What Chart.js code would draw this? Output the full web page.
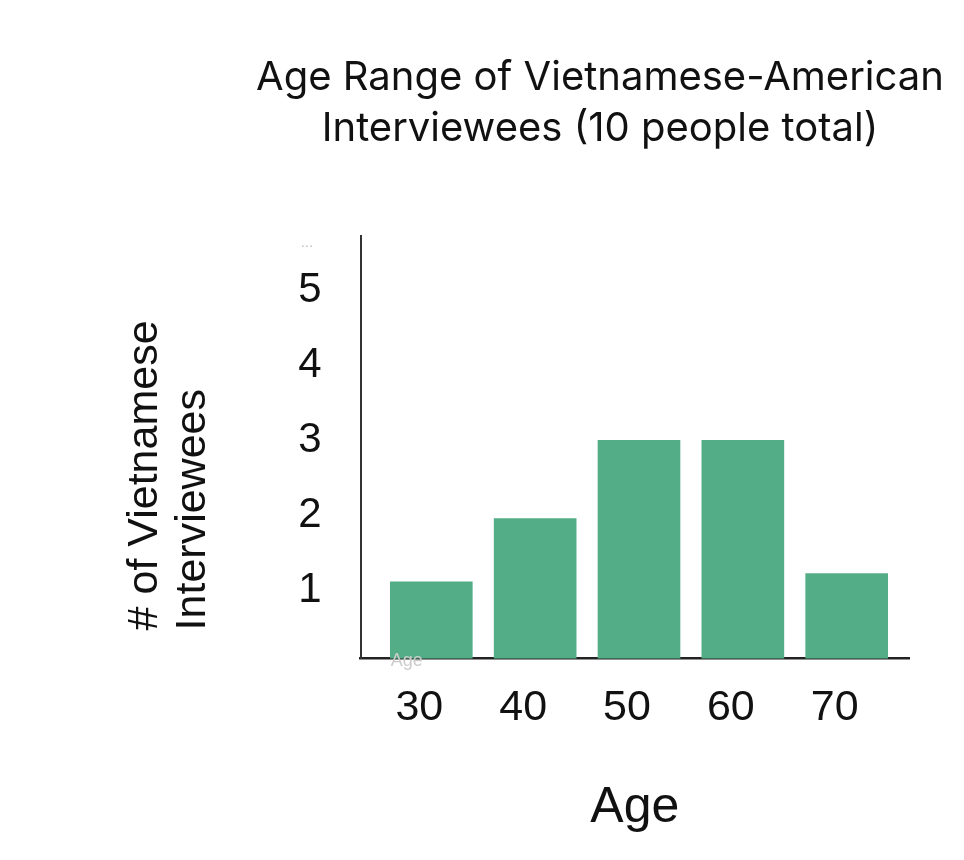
<!DOCTYPE html>
<html lang="en">
<head>
    <meta charset="UTF-8">
    <title>Chart</title>
    <style>
        body {
            margin: 0;
            padding: 0;
            background: #fff;
        }
        #wrap {
            width: 964px;
            height: 860px;
        }
    </style>
    <script src="https://cdn.jsdelivr.net/npm/chart.js@4.4.1/dist/chart.umd.min.js"></script>
</head>
<body>
<div id="wrap">
    <canvas id="chart"></canvas>
</div>
<script>
    // values
    const ages = [30, 40, 50, 60, 70];
    const counts = [1.12, 1.96, 3.0, 3.0, 1.23];
    const yTicks = [1, 2, 3, 4, 5];
    const titleLines = ['Age Range of Vietnamese-American', 'Interviewees (10 people total)'];
    const yTitleLines = ['# of Vietnamese', 'Interviewees'];

    const barColor = '#53ae88';

    // stray faint labels that sit on the original picture
    const faintLabels = {
        id: 'faintLabels',
        afterDraw(chart) {
            const {ctx, chartArea} = chart;
            ctx.save();
            ctx.fillStyle = '#bdbdbd';
            ctx.font = '15px "Liberation Sans"';
            ctx.textBaseline = 'middle';
            ctx.fillText('...', chartArea.left - 60, chartArea.top + 7);
            ctx.fillStyle = '#cccccc';
            ctx.font = '18px "Liberation Sans"';
            ctx.fillText('Age', chartArea.left + 30, chartArea.bottom + 3);
            ctx.restore();
        }
    };

    // the main title sits right of the canvas middle and the y title
    // starts a bit above the axis bottom
    const shiftTitles = {
        id: 'shiftTitles',
        afterLayout(chart) {
            chart.titleBlock.left = 236;
            chart.titleBlock.right = 964;
            const y = chart.scales.y;
            if (!y._titleShifted) {
                const orig = y.drawTitle;
                y.drawTitle = function () {
                    const b = this.bottom;
                    this.bottom = b - 28;
                    orig.call(this);
                    this.bottom = b;
                };
                y._titleShifted = true;
            }
        }
    };

    const config = {
        type: 'bar',
        data: {
            datasets: [{
                data: ages.map((a, i) => ({x: a, y: counts[i]})),
                backgroundColor: barColor,
                borderWidth: 0,
                barThickness: 82
            }]
        },
        options: {
            responsive: true,
            maintainAspectRatio: false,
            animation: false,
            layout: {
                padding: {left: 121, right: 55, top: 0, bottom: 0}
            },
            plugins: {
                legend: {display: false},
                tooltip: {enabled: false},
                title: {
                    display: true,
                    text: titleLines,
                    color: '#111',
                    font: {family: 'Inter', size: 40, weight: 'normal', lineHeight: 1.275},
                    padding: {top: 52, bottom: 82}
                }
            },
            scales: {
                x: {
                    type: 'linear',
                    offset: false,
                    min: 23.2,
                    max: 76,
                    afterBuildTicks: (axis) => {
                        axis.ticks = ages.map(v => ({value: v}));
                    },
                    grid: {display: false, offset: false},
                    border: {display: true, color: '#222', width: 2.5},
                    ticks: {
                        color: '#111',
                        font: {family: 'Liberation Sans', size: 43},
                        padding: 16,
                        labelOffset: -12,
                        maxRotation: 0
                    },
                    title: {
                        display: true,
                        text: 'Age',
                        color: '#111',
                        font: {family: 'Liberation Sans', size: 50},
                        padding: {top: 28, bottom: 22}
                    }
                },
                y: {
                    min: 0.1,
                    max: 5.72,
                    afterBuildTicks: (axis) => {
                        axis.ticks = yTicks.map(v => ({value: v}));
                    },
                    grid: {display: false},
                    border: {display: true, color: '#333', width: 2},
                    ticks: {
                        color: '#111',
                        font: {family: 'Liberation Sans', size: 42},
                        padding: 31
                    },
                    title: {
                        display: true,
                        text: yTitleLines,
                        align: 'start',
                        color: '#111',
                        font: {family: 'Liberation Sans', size: 43, lineHeight: 1.12},
                        padding: {top: 0, bottom: 50}
                    }
                }
            }
        },
        plugins: [faintLabels, shiftTitles]
    };

    new Chart(document.getElementById('chart'), config);
</script>
</body>
</html>
